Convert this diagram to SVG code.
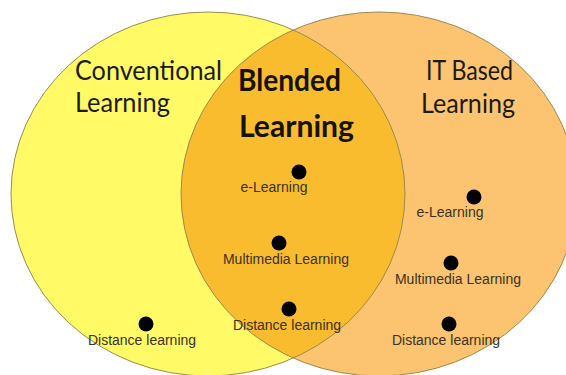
<svg xmlns="http://www.w3.org/2000/svg" width="566" height="375" viewBox="0 0 566 375">
<defs>
<style>
.hand{font-family:"Lato","Open Sans","DejaVu Sans",sans-serif;font-size:27px;fill:#1c1a14;}
.bold{font-family:"Lato","Open Sans","DejaVu Sans",sans-serif;font-size:30px;font-weight:bold;fill:#15120a;}
.lbl{font-family:"Liberation Sans",Arial,sans-serif;font-size:14px;fill:#3a3222;text-anchor:middle;}
.dot{fill:#000;}
.edge{fill:none;stroke:#9a8c50;stroke-width:1;}
</style>
<clipPath id="clipRight">
<ellipse cx="379" cy="194" rx="198" ry="182"/>
</clipPath>
</defs>
<rect width="566" height="375" fill="#ffffff"/>
<g id="conventional">
<ellipse cx="208" cy="194" rx="197" ry="182" fill="#fffa66"/>
</g>
<g id="it-based">
<ellipse cx="379" cy="194" rx="198" ry="182" fill="#fcc470"/>
</g>
<g id="blended">
<ellipse cx="208" cy="194" rx="197" ry="182" fill="#f9bc2e" clip-path="url(#clipRight)"/>
</g>
<g id="outlines">
<ellipse class="edge" cx="208" cy="194" rx="197" ry="182"/>
<ellipse class="edge" cx="379" cy="194" rx="198" ry="182"/>
</g>
<g id="titles">
<text class="hand" x="75" y="80" textLength="147" lengthAdjust="spacingAndGlyphs">Conventional</text>
<text class="hand" x="75" y="112" textLength="95" lengthAdjust="spacingAndGlyphs">Learning</text>
<text class="hand" x="426" y="80" textLength="87" lengthAdjust="spacingAndGlyphs">IT Based</text>
<text class="hand" x="421" y="113" textLength="94" lengthAdjust="spacingAndGlyphs">Learning</text>
<text class="bold" x="238" y="91" textLength="103" lengthAdjust="spacingAndGlyphs">Blended</text>
<text class="bold" x="239" y="137" textLength="115" lengthAdjust="spacingAndGlyphs">Learning</text>
</g>
<g id="items-blended">
<circle class="dot" cx="299" cy="172" r="7.5"/>
<text class="lbl" x="274" y="192">e-Learning</text>
<circle class="dot" cx="279" cy="243" r="7.5"/>
<text class="lbl" x="286" y="264">Multimedia Learning</text>
<circle class="dot" cx="289" cy="309" r="7.5"/>
<text class="lbl" x="287" y="330">Distance learning</text>
</g>
<g id="items-conventional">
<circle class="dot" cx="146" cy="324" r="7.5"/>
<text class="lbl" x="142" y="345">Distance learning</text>
</g>
<g id="items-it">
<circle class="dot" cx="474" cy="197" r="7.5"/>
<text class="lbl" x="450" y="217">e-Learning</text>
<circle class="dot" cx="451" cy="263" r="7.5"/>
<text class="lbl" x="458" y="284">Multimedia Learning</text>
<circle class="dot" cx="449" cy="324" r="7.5"/>
<text class="lbl" x="446" y="345">Distance learning</text>
</g>
</svg>
